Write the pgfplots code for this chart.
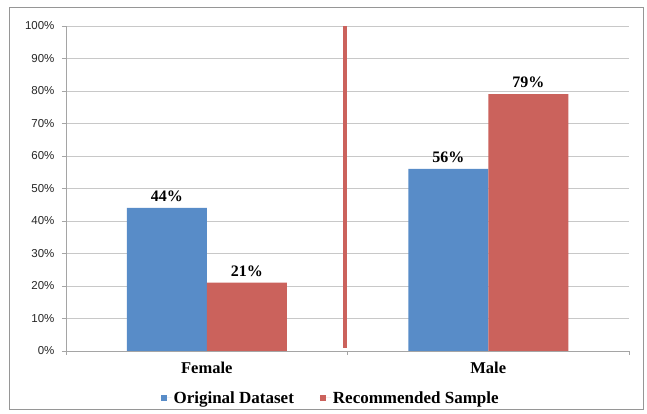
\documentclass[border=0pt]{standalone}
\usepackage{pgfplots}
\pgfplotsset{compat=1.18}
\usepackage{fontspec}
\setmainfont{Liberation Serif}
\newfontfamily\sansf{Liberation Sans}
\definecolor{barblue}{RGB}{88,140,200}
\definecolor{barred}{RGB}{203,98,92}
\definecolor{gridc}{RGB}{200,200,200}
\definecolor{axisc}{RGB}{165,165,165}
\definecolor{framec}{RGB}{150,150,150}
\begin{document}
\begin{tikzpicture}
\useasboundingbox[fill=white] (-66pt,-63pt) rectangle (581pt,351pt);
\draw[framec, line width=1pt] (-56pt,-59pt) rectangle (577pt,343pt);
\begin{axis}[
  at={(0pt,0pt)}, anchor=south west,
  scale only axis, width=563pt, height=325pt,
  xmin=-0.5, xmax=1.5, ymin=0, ymax=100,
  axis x line*=bottom, axis y line*=left,
  axis line style={axisc, line width=0.8pt},
  ymajorgrids, grid style={gridc, line width=0.8pt},
  ytick={0,10,...,100},
  yticklabels={0\%,10\%,20\%,30\%,40\%,50\%,60\%,70\%,80\%,90\%,100\%},
  yticklabel style={font=\sansf\fontsize{11.5}{13}\selectfont, black!85, xshift=-4pt},
  xtick={-0.5,0.5,1.5}, xticklabels={},
  extra x ticks={0,1}, extra x tick labels={Female,Male},
  extra x tick style={major tick length=0pt, grid=none},
  xticklabel style={font=\bfseries\fontsize{16.5}{19}\selectfont, black, yshift=-8pt},
  tick align=outside, major tick length=4pt,
  tick style={axisc, line width=0.8pt},
  legend columns=2,
  legend style={at={(axis description cs:0.47,-0.1445)}, anchor=center, draw=none,
    font=\bfseries\fontsize{17}{19}\selectfont,
    /tikz/every even column/.append style={column sep=24pt}},
  legend image code/.code={\fill[#1,draw=none] (0pt,-3pt) rectangle (6pt,3pt); \path (0pt,0pt) -- (11pt,0pt);},
  clip=false,
]
\addplot[ybar, bar width=80pt, bar shift=-40pt, fill=barblue, draw=none,
  nodes near coords={\pgfmathprintnumber[assume math mode=true]{\pgfplotspointmeta}\%},
  every node near coord/.append style={font=\bfseries\fontsize{16}{19}\selectfont, black, xshift=-40pt, yshift=3pt}]
  coordinates {(0,44) (1,56)};
\addlegendentry{Original Dataset}
\addplot[ybar, bar width=80pt, bar shift=40pt, fill=barred, draw=none,
  nodes near coords={\pgfmathprintnumber[assume math mode=true]{\pgfplotspointmeta}\%},
  every node near coord/.append style={font=\bfseries\fontsize{16}{19}\selectfont, black, xshift=40pt, yshift=3pt}]
  coordinates {(0,21) (1,79)};
\addlegendentry{Recommended Sample}
\addplot[barred, line width=4pt, forget plot] coordinates {(0.49,1) (0.49,100)};
\end{axis}
\end{tikzpicture}
\end{document}
